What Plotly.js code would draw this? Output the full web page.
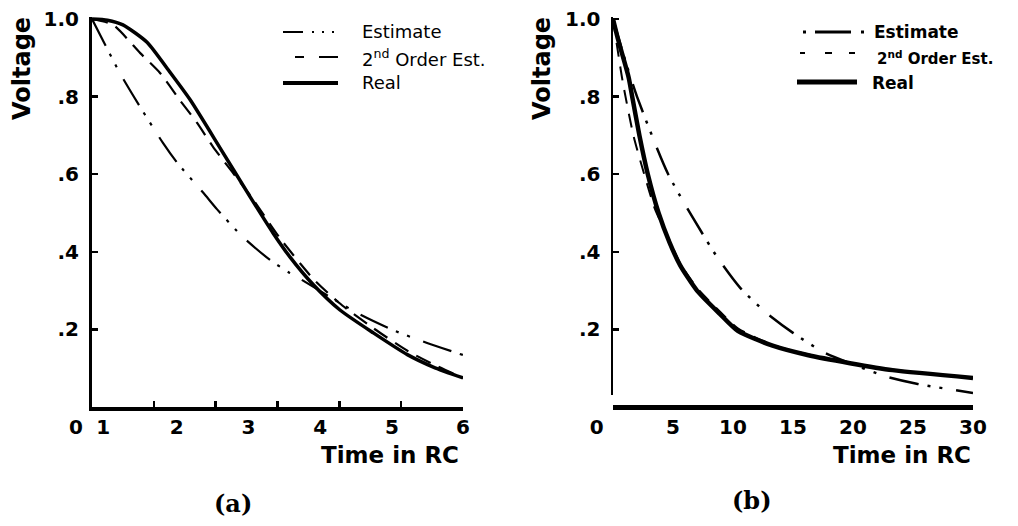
<!DOCTYPE html>
<html><head><meta charset="utf-8">
<script src="https://cdn.plot.ly/plotly-3.0.1.min.js"></script>
<style>html,body{margin:0;padding:0;background:#fff;} #chart{width:1018px;height:526px;}</style>
</head><body><div id="chart"></div>
<script>
// ---- data: panel (a) ----
const aTimeEst  = [0, 0.45, 0.78, 1.15, 1.38, 1.80, 2.02, 2.44, 2.88, 3.20, 3.37, 4.29, 4.87, 5.42, 6.0];
const aVoltEst  = [1.0, 0.861, 0.773, 0.680, 0.629, 0.552, 0.510, 0.438, 0.379, 0.345, 0.330, 0.242, 0.198, 0.165, 0.134];
const aTime2nd  = [0, 0.34, 0.78, 1.10, 1.42, 1.70, 1.96, 2.56, 3.04, 3.58, 4.0, 4.55, 5.1, 5.52, 6.0];
const aVolt2nd  = [1.0, 0.985, 0.912, 0.861, 0.791, 0.732, 0.670, 0.545, 0.435, 0.330, 0.268, 0.203, 0.145, 0.110, 0.075];
const aTimeReal = [0, 0.25, 0.5, 0.89, 1.26, 1.59, 2.07, 2.56, 2.93, 3.2, 3.58, 4.01, 4.55, 5.1, 5.52, 6.0];
const aVoltReal = [1.0, 0.997, 0.985, 0.940, 0.863, 0.791, 0.668, 0.541, 0.448, 0.387, 0.315, 0.250, 0.191, 0.135, 0.103, 0.075];
// ---- data: panel (b) ----
const bTimeEst  = [0, 1.0, 2.0, 4.6, 8.6, 10.6, 12.8, 15.0, 17.5, 19.75, 22.8, 25.3, 30];
const bVoltEst  = [1.0, 0.895, 0.80, 0.60, 0.39, 0.307, 0.242, 0.191, 0.142, 0.113, 0.078, 0.060, 0.036];
const bTime2nd  = [0, 0.8, 1.7, 2.6, 3.5, 4.7, 5.6, 7.0, 8.9, 10.4, 13.3, 16.2, 19.75, 23.3, 30];
const bVolt2nd  = [1.0, 0.84, 0.70, 0.60, 0.51, 0.43, 0.37, 0.307, 0.246, 0.203, 0.160, 0.136, 0.114, 0.096, 0.075];
const bTimeReal = [0, 0.4, 1.3, 1.6, 2.2, 2.9, 3.8, 4.7, 5.6, 7.0, 8.9, 10.4, 13.3, 16.2, 19.75, 23.3, 30];
const bVoltReal = [1.0, 0.95, 0.85, 0.80, 0.70, 0.60, 0.50, 0.425, 0.365, 0.30, 0.240, 0.196, 0.158, 0.134, 0.113, 0.095, 0.075];
// ---- tick labels ----
const yTickVals = [0.2, 0.4, 0.6, 0.8, 1.0];
const yTickText = ['.2', '.4', '.6', '.8', '1.0'];
const aTickMarks = [1, 2, 3, 4, 5, 6];
const aTickText = ['0', '1', '2', '3', '4', '5', '6'];
const bTickText = ['0', '5', '10', '15', '20', '25', '30'];
const seriesNames = ['Estimate', '2<sup>nd</sup> Order Est.', 'Real'];

// ---- layout helpers ----
const W = 1018, H = 526;
const fx = p => p / W, fy = p => 1 - p / H;
// label placement as printed in the original figure (in axis units)
const aLabelPos = [-0.26, 0.18, 1.37, 2.53, 3.69, 4.85, 6.0];
const bLabelPos = [-1.35, 5, 10, 15, 20, 25, 30];

const K = '#000';
const tickFont = {family: 'DejaVu Sans', size: 20, color: K, weight: 'bold'};
const estDash = '30px,9px,3px,9px,3px,14px';

const traces = [
  {x: aTimeEst, y: aVoltEst, xaxis: 'x', yaxis: 'y', mode: 'lines', name: 'Estimate',
   line: {color: K, width: 2.2, dash: estDash, shape: 'spline', smoothing: 0.6}},
  {x: aTime2nd, y: aVolt2nd, xaxis: 'x', yaxis: 'y', mode: 'lines', name: '2nd Order Est.',
   line: {color: K, width: 2.2, dash: '16px,9px', shape: 'spline', smoothing: 0.6}},
  {x: aTimeReal, y: aVoltReal, xaxis: 'x', yaxis: 'y', mode: 'lines', name: 'Real',
   line: {color: K, width: 3.5, shape: 'spline', smoothing: 0.6}},
  {x: bTimeEst, y: bVoltEst, xaxis: 'x2', yaxis: 'y2', mode: 'lines', name: 'Estimate',
   line: {color: K, width: 2.5, dash: estDash, shape: 'spline', smoothing: 0.6}},
  {x: bTime2nd, y: bVolt2nd, xaxis: 'x2', yaxis: 'y2', mode: 'lines', name: '2nd Order Est.',
   line: {color: K, width: 2, dash: '14px,10px', shape: 'spline', smoothing: 0.6}},
  {x: bTimeReal, y: bVoltReal, xaxis: 'x2', yaxis: 'y2', mode: 'lines', name: 'Real',
   line: {color: K, width: 4.5, shape: 'spline', smoothing: 0.6}},
  // empty traces so the label-only axes are created
  {x: [], y: [], xaxis: 'x3', yaxis: 'y', mode: 'lines'},
  {x: [], y: [], xaxis: 'x4', yaxis: 'y2', mode: 'lines'}
];

const yTop = 17, yZero = 407, yUnit = 388;
const aX0 = 92, aUnit = (463 - 92) / 6, bX0 = 613, bUnit = 12;
const common = {showgrid: false, zeroline: false, fixedrange: true};

const layout = {
  width: W, height: H, showlegend: false,
  margin: {l: 0, r: 0, t: 0, b: 0},
  paper_bgcolor: '#fff', plot_bgcolor: 'rgba(0,0,0,0)',
  xaxis: Object.assign({}, common, {domain: [fx(aX0), fx(463)], range: [0, 6], anchor: 'y',
    showline: true, linewidth: 4, linecolor: K, ticks: 'inside', ticklen: 6, tickwidth: 2.5, tickcolor: K,
    tickvals: aTickMarks, showticklabels: false}),
  // label-only axis for panel (a), same scale, extended to the left
  xaxis3: Object.assign({}, common, {domain: [fx(50), fx(463)], range: [-(aX0 - 50) / aUnit, 6],
    anchor: 'free', position: fy(yZero), side: 'bottom',
    showline: false, ticks: '', tickvals: aLabelPos, ticktext: aTickText, tickfont: tickFont, ticklabelstandoff: 6}),
  yaxis: Object.assign({}, common, {domain: [fy(yZero), fy(yTop)], range: [0, (yZero - yTop) / yUnit], anchor: 'x',
    showline: true, linewidth: 3, linecolor: K, ticks: 'inside', ticklen: 6, tickwidth: 2.5, tickcolor: K,
    tickvals: yTickVals, ticktext: yTickText, tickfont: tickFont, ticklabelstandoff: 6}),
  xaxis2: Object.assign({}, common, {domain: [fx(bX0), fx(973)], range: [0, 30], anchor: 'free', position: fy(yZero),
    showline: true, linewidth: 4.5, linecolor: K, ticks: '', showticklabels: false}),
  // label-only axis for panel (b), same scale, extended to the left
  xaxis4: Object.assign({}, common, {domain: [fx(570), fx(973)], range: [-(bX0 - 570) / bUnit, 30],
    anchor: 'free', position: fy(yZero), side: 'bottom',
    showline: false, ticks: '', tickvals: bLabelPos, ticktext: bTickText, tickfont: tickFont, ticklabelstandoff: 6}),
  yaxis2: Object.assign({}, common, {domain: [fy(395), fy(yTop)], range: [(yZero - 395) / yUnit, (yZero - yTop) / yUnit], anchor: 'x2',
    showline: true, linewidth: 2.5, linecolor: K, ticks: 'inside', ticklen: 6, tickwidth: 2.5, tickcolor: K,
    tickvals: yTickVals, ticktext: yTickText, tickfont: tickFont, ticklabelstandoff: 6}),
  shapes: [],
  annotations: []
};

function legLine(x0, x1, y, width, dash) {
  layout.shapes.push({type: 'line', xref: 'paper', yref: 'paper', x0: fx(x0), x1: fx(x1), y0: fy(y), y1: fy(y),
    line: {color: K, width: width, dash: dash || 'solid'}});
}
function txt(text, x, y, font, opts) {
  layout.annotations.push(Object.assign({text: text, xref: 'paper', yref: 'paper', x: fx(x), y: fy(y),
    showarrow: false, xanchor: 'center', yanchor: 'middle', font: font}, opts || {}));
}
// legend (a)
const legA = {family: 'DejaVu Sans', size: 18, color: K};
legLine(283, 338, 32, 2, '20px,9px,2px,8px,2px,8px,2px');
legLine(295, 338, 57, 2, '9px,15px,19px');
legLine(283, 338, 83, 4);
txt(seriesNames[0], 360, 32, legA, {xanchor: 'left'});
txt(seriesNames[1], 360, 58, legA, {xanchor: 'left'});
txt(seriesNames[2], 360, 83, legA, {xanchor: 'left'});
// legend (b)
const legB = {family: 'DejaVu Sans', size: 17, color: K, weight: 'bold'};
legLine(803, 864, 32, 3, '3px,9px,36px,10px,3px');
legLine(800, 856, 53, 2, '5px,20px,7px,17px,6px');
legLine(797, 857, 82, 5);
txt(seriesNames[0], 872, 32, legB, {xanchor: 'left'});
txt(seriesNames[1], 875, 58, {family: 'DejaVu Sans', size: 15, color: K, weight: 'bold'}, {xanchor: 'left'});
txt(seriesNames[2], 870, 83, legB, {xanchor: 'left'});
// axis titles
const titleFont = {family: 'DejaVu Sans', size: 24, color: K, weight: 'bold'};
txt('Voltage', 22, 69, titleFont, {textangle: -90});
txt('Voltage', 542, 69, titleFont, {textangle: -90});
txt('Time in RC', 390, 455, {family: 'DejaVu Sans', size: 23, color: K, weight: 'bold'});
txt('Time in RC', 902, 455, {family: 'DejaVu Sans', size: 23, color: K, weight: 'bold'});
// panel labels
const serif = {family: 'DejaVu Serif', size: 24, color: K, weight: 'bold'};
txt('(a)', 233, 503, serif);
txt('(b)', 752, 500, serif);

Plotly.newPlot('chart', traces, layout, {staticPlot: true, displayModeBar: false});
</script>
</body></html>
